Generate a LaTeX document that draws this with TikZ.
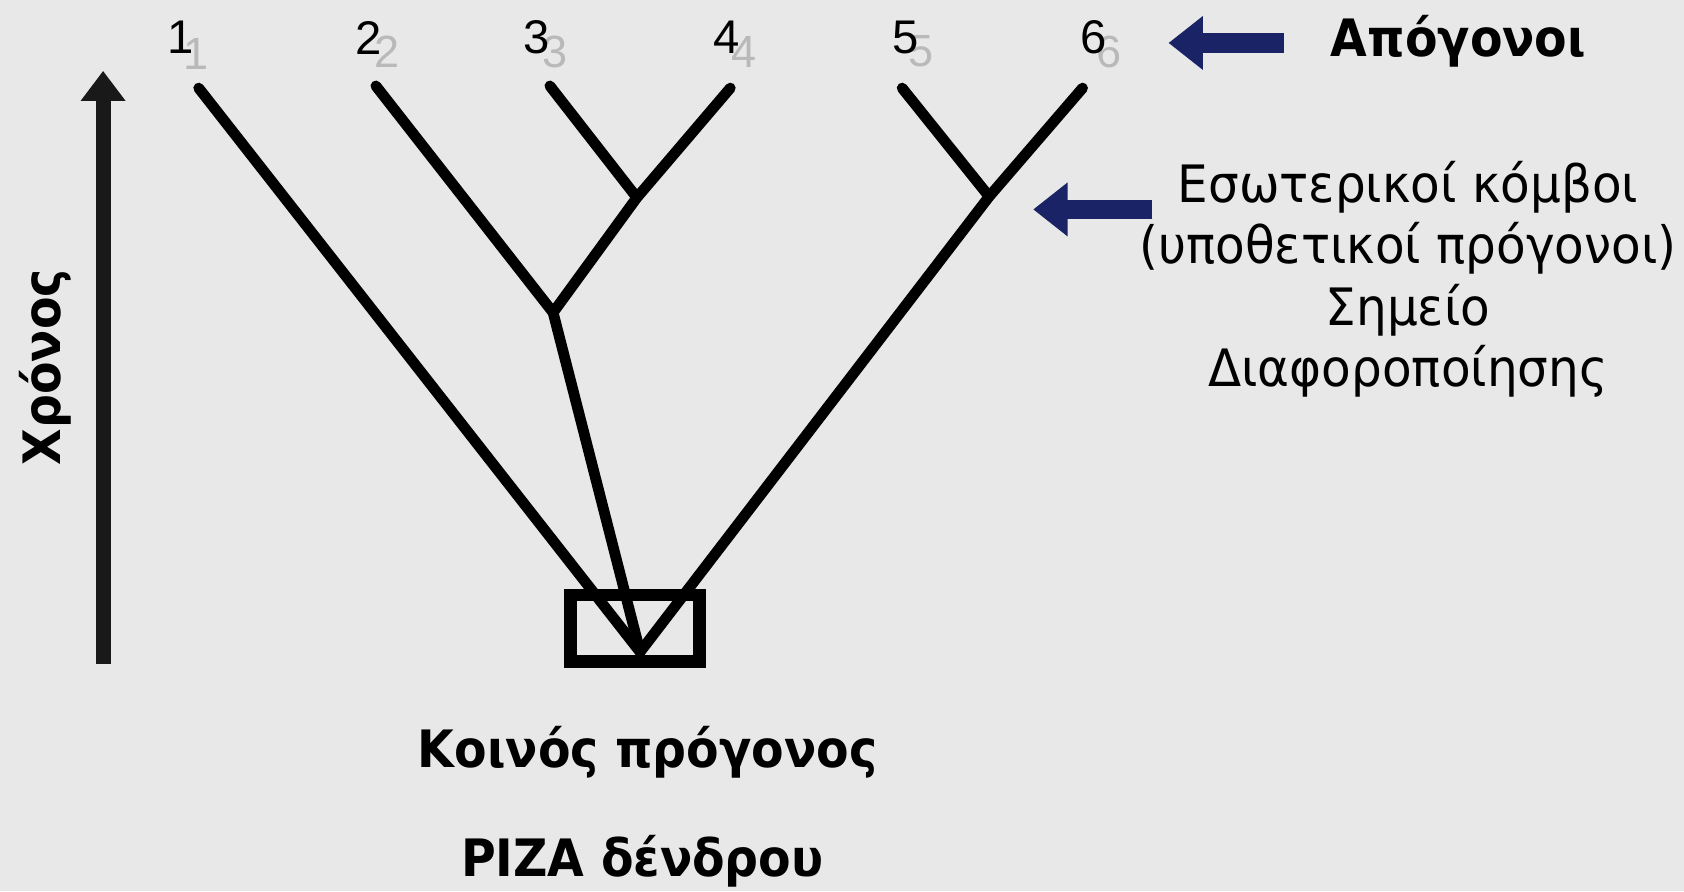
\documentclass[tikz,border=0pt]{standalone}
\usepackage{fontspec}
\setmainfont{DejaVu Sans}[FakeStretch=0.92]
\newfontfamily\plainfont{DejaVu Sans}[FakeStretch=0.94]
\newfontfamily\numfont{Liberation Sans}
\usetikzlibrary{arrows.meta}
\definecolor{bg}{RGB}{232,232,232}
\definecolor{navy}{RGB}{26,35,102}
\definecolor{ghost}{RGB}{185,185,185}
\tikzset{
  branch/.style={line width=5pt, line cap=round, line join=round, black},
  num/.style={font=\numfont\fontsize{22}{24}\selectfont, inner sep=0pt},
  ghostnum/.style={font=\numfont\fontsize{21}{24}\selectfont, inner sep=0pt, text=ghost},
  boldlbl/.style={font=\bfseries\fontsize{24}{28}\selectfont, inner sep=0pt},
  plainlbl/.style={font=\plainfont\fontsize{24}{28.5}\selectfont, inner sep=0pt, align=center},
  bluearrow/.style={navy, line width=9pt, -{Triangle[length=16pt,width=24pt]}},
  timearrow/.style={line width=7pt, -{Triangle[length=14pt,width=20pt]}, black!90}
}
\begin{document}
\begin{tikzpicture}[x=0.5pt,y=-0.5pt]
\useasboundingbox[fill=bg] (0,0) rectangle (1568,830);
% ghost numbers (behind)
\node[ghostnum] (g1) at (183,50) {1};
\node[ghostnum] (g2) at (360,48) {2};
\node[ghostnum] (g3) at (517,48) {3};
\node[ghostnum] (g4) at (693,48) {4};
\node[ghostnum] (g5) at (858,48) {5};
\node[ghostnum] (g6) at (1033,48) {6};
% numbers
\node[num] (n1) at (168,35) {1};
\node[num] (n2) at (343,35) {2};
\node[num] (n3) at (500,35) {3};
\node[num] (n4) at (677,35) {4};
\node[num] (n5) at (843,35) {5};
\node[num] (n6) at (1018,35) {6};
% tree coordinates
\coordinate (l1) at (185,82);
\coordinate (l2) at (350,80);
\coordinate (l3) at (512,80);
\coordinate (l4) at (680,82);
\coordinate (l5) at (840,82);
\coordinate (l6) at (1008,82);
\coordinate (i34) at (593,184);
\coordinate (i234) at (515,291);
\coordinate (i56) at (921,183);
\coordinate (root) at (596,607);
% root box
\node[draw, line width=6pt, minimum width=60pt, minimum height=31pt, inner sep=0pt] (box) at (591,585) {};
% branches
\draw[branch] (l1) -- (root);
\draw[branch] (l2) -- (i234);
\draw[branch] (l3) -- (i34);
\draw[branch] (l4) -- (i34) -- (i234) -- (root);
\draw[branch] (l5) -- (i56);
\draw[branch] (l6) -- (i56) -- (root);
% time axis
\coordinate (tbot) at (96,618);
\coordinate (ttop) at (96,66);
\draw[timearrow] (tbot) -- (ttop);
\node[boldlbl, rotate=90] (time) at (42,342) {Χρόνος};
% labels
\node[boldlbl] (desc) at (1358,38) {Απόγονοι};
\coordinate (a1s) at (1196,40);
\coordinate (a1e) at (1088,40);
\draw[bluearrow] (a1s) -- (a1e);
\node[plainlbl] (inner) at (1311,260) {Εσωτερικοί κόμβοι\\(υποθετικοί πρόγονοι)\\Σημείο\\Διαφοροποίησης};
\coordinate (a2s) at (1073,195);
\coordinate (a2e) at (962,195);
\draw[bluearrow] (a2s) -- (a2e);
\node[boldlbl] (common) at (603,700) {Κοινός πρόγονος};
\node[boldlbl] (rootlbl) at (598,802) {ΡΙΖΑ δένδρου};
\end{tikzpicture}
\end{document}
